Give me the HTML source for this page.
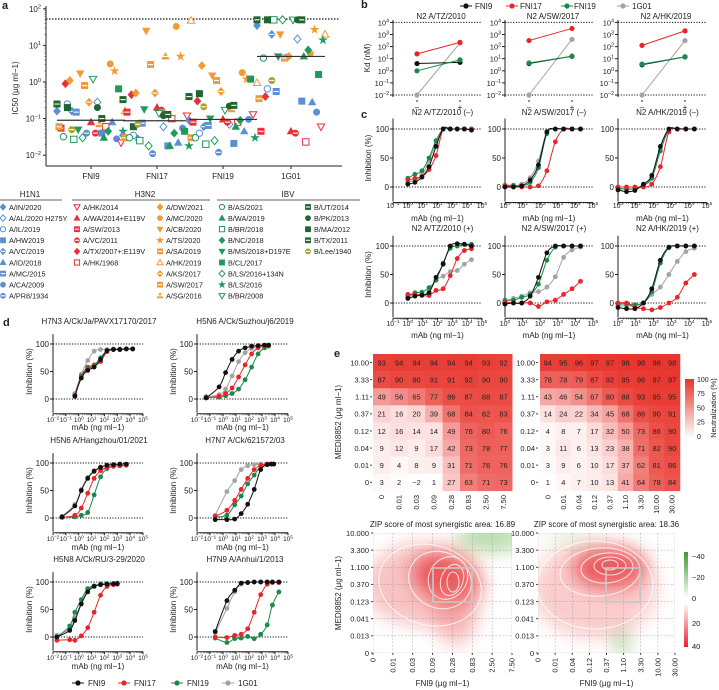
<!DOCTYPE html>
<html><head><meta charset="utf-8">
<style>
html,body{margin:0;padding:0;background:#fff;}
svg{display:block;font-family:"Liberation Sans",sans-serif;}
</style></head>
<body>
<svg id="chart" width="719" height="690" viewBox="0 0 719 690" xmlns="http://www.w3.org/2000/svg">
<defs>
<filter id="blur" x="-50%" y="-50%" width="200%" height="200%"><feGaussianBlur stdDeviation="9"/></filter>
<clipPath id="clipL"><rect x="373" y="533" width="139" height="120"/></clipPath>
<clipPath id="clipR"><rect x="538" y="533" width="137" height="120"/></clipPath>
<linearGradient id="neutGrad" x1="0" y1="0" x2="0" y2="1"><stop offset="0" stop-color="#e8322a"/><stop offset="1" stop-color="#ffffff"/></linearGradient>
<linearGradient id="zipG" x1="0" y1="0" x2="0" y2="1"><stop offset="0" stop-color="#3c9a2e"/><stop offset="1" stop-color="#ffffff"/></linearGradient>
<linearGradient id="zipR" x1="0" y1="0" x2="0" y2="1"><stop offset="0" stop-color="#ffffff"/><stop offset="1" stop-color="#e8222a"/></linearGradient>
</defs>
</svg>
<script>
// ---------------- DATA ----------------
// Panel a
const abNames = ['FNI9','FNI17','FNI19','1G01'];
const strainNames = ['A/IN/2020','A/AL/2020 H275Y','A/IL/2019','A/HW2019','A/VC/2019','A/ID/2018','A/MC/2015','A/CA/2009','A/PR8/1934',
 'A/HK/2014','A/WA/2014+E119V','A/SW/2013','A/VC/2011','A/TX/2007+:E119V','A/HK/1968',
 'A/DW/2021','A/MC/2020','A/CB/2020','A/TS/2020','A/SA/2019','A/HK/2019','A/KS/2017','A/SW/2017','A/SG/2016',
 'B/AS/2021','B/WA/2019','B/BR/2018','B/NC/2018','B/MS/2018+D197E','B/CL/2017','B/LS/2016+134N','B/LS/2016','B/BR/2008',
 'B/UT/2014','B/PK/2013','B/MA/2012','B/TX/2011','B/Lee/1940'];
const strainShapes = ['diamond','diamond','circle','square','diamond','tri','square','circle','circle',
 'tridown','tri','square','circle','diamond','square',
 'diamond','circle','tridown','star','square','tri','diamond','square','tri',
 'circle','tri','square','diamond','tridown','square','diamond','star','tridown',
 'square','circle','square','square','circle'];
const strainStyles = ['f','o','o','f','h','f','h','f','h',
 'o','f','h','h','f','o',
 'f','f','f','f','h','o','h','h','h',
 'o','f','o','f','f','f','o','f','o',
 'h','f','f','h','h'];
const strainColors = ['b','b','b','b','b','b','b','b','b','r','r','r','r','r','r','o','o','o','o','o','o','o','o','o',
 'g','g','g','g','g','g','g','g','g','d','d','d','d','y'];
const ic50FNI9  = [0.16,0.28,0.25,0.04,0.16,0.08,0.15,0.028,0.04, 0.022,0.08,0.055,0.04,0.9,0.06, 1.1,3.1,1.7,2.0,0.8,0.16,0.28,0.06,0.07, 0.032,0.03,0.027,0.045,0.05,0.65,0.03,0.045,1.2, 0.25,0.2,0.2,0.1,0.05];
const ic50FNI17 = [0.035,0.06,0.035,0.018,0.028,0.022,0.075,0.055,0.011, 0.12,0.2,0.15,0.17,0.45,0.1, 0.5,33,25,5,3,48,0.5,0.03,5, 0.03,0.018,0.025,0.04,0.18,0.045,0.018,0.018,0.14, 0.33,0.12,0.06,0.13,0.07];
const ic50FNI19 = [0.09,0.07,0.04,0.021,0.06,0.045,0.065,0.095,0.012, 0.13,0.095,0.08,0.08,0.3,0.08, 2.8,1.8,1.5,1.2,1.1,0.95,0.55,0.03,0.18, 0.03,0.06,0.02,0.09,0.1,1.2,0.025,0.03,0.17, 0.4,0.22,0.48,0.23,0.21];
const ic501G01  = [35,15,0.65,0.3,20,0.28,0.55,0.15,4.8, 0.06,0.045,0.045,0.04,0.4,0.023, 50,6,20,27,4.5,20,5,0.35,50, 4.5,5,50,7.5,5,1.6,50,14,50, 50,50,50,50,1.1];
const ic50Sets = [ic50FNI9, ic50FNI17, ic50FNI19, ic501G01];
const aTickExps = [2,1,0,-1,-2];

// Panel b (log10 Kd, minus/plus)
const bTitles = ['N2 A/TZ/2010','N2 A/SW/2017','N2 A/HK/2019'];
const kdFNI9  = [[0.6,0.7],[0.6,1.2],[0.5,1.15]];
const kdFNI17 = [[1.4,2.35],[2.5,3.5],[2.1,3.3]];
const kdFNI19 = [[0.0,0.9],[0.65,1.2],[0.55,1.15]];
const kd1G01  = [[-2,2.3],[-2,2.6],[-2,2.5]];
const bTickExps = [4,3,2,1,0,-1,-2];

// Panel c
const cTitles = ['N2 A/TZ/2010 (–)','N2 A/SW/2017 (–)','N2 A/HK/2019 (–)','N2 A/TZ/2010 (+)','N2 A/SW/2017 (+)','N2 A/HK/2019 (+)'];
const cConc = [0,0.48,0.95,1.43,1.9,2.38,2.86,3.33,3.81,4.29];
const cFNI9  = [[5,8,17,35,70,100,100,100,100,98],[0,0,2,12,38,95,100,100,100,100],[-5,-8,-6,5,20,70,100,100,100,100],
 [8,12,14,18,45,68,100,104,103,100],[-2,0,0,12,45,88,100,100,100,100],[-8,-10,-10,0,25,75,98,100,100,100]];
const cFNI17 = [[12,15,18,30,54,100,100,100,100,100],[2,0,0,0,2,28,78,100,100,100],[0,0,0,0,5,35,95,100,100,100],
 [15,15,13,13,22,25,48,78,92,95],[2,0,0,0,-6,2,5,15,25,38],[0,0,-8,-10,-12,-8,0,10,35,50]];
const cFNI19 = [[15,22,28,50,80,100,100,100,100,100],[3,3,2,8,33,92,100,100,100,100],[-3,-3,-3,3,15,62,98,100,100,100],
 [12,18,19,27,40,70,96,100,103,103],[5,5,10,15,33,75,98,100,100,100],[-2,-2,-3,0,20,70,97,100,100,100]];
const c1G01  = [[8,12,20,45,75,100,100,100,100,100],[2,2,5,16,45,95,100,100,100,100],[-2,-4,-3,4,18,66,100,100,100,100],
 [10,15,15,20,40,47,55,57,68,76],[3,8,12,18,20,28,46,80,93,98],[-5,-5,-5,0,15,28,50,73,90,96]];

// Panel d
const dTitles = ['H7N3 A/Ck/Ja/PAVX17170/2017','H5N6 A/Ck/Suzhou/j6/2019','H5N6 A/Hangzhou/01/2021','H7N7 A/Ck/621572/03','H5N8 A/Ck/RU/3-29/2020','H7N9 A/Anhui/1/2013'];
const dConc = [[-0.3,0.2,0.7,1.2,1.7,2.2,2.7,3.2,3.7,4.2],[-1.3,-0.3,0.2,0.7,1.2,1.7,2.2,2.7,3.2,3.5],[-1.3,-0.3,0.2,0.7,1.2,1.7,2.2,2.7,3.2,3.7],
 [-0.6,0.3,0.9,1.4,1.9,2.4,2.9,3.4,3.7,3.9],[-1.7,-0.7,-0.3,0.2,0.7,1.2,1.7,2.2,2.7,3.0],[-0.6,0.3,0.9,1.4,1.9,2.4,2.9,3.4,3.8,4.3]];
const dFNI9  = [[5,38,52,58,72,88,90,90,91,91],[2,22,48,72,87,93,96,97,98,98],[2,22,50,72,85,92,96,97,98,98],
 [-3,-3,-2,8,25,52,88,97,98,98],[0,12,30,60,82,92,95,96,97,97],[10,66,85,98,99,100,100,100,100,100]];
const dFNI17 = [[6,40,55,60,68,86,90,90,91,91],[2,5,10,20,40,62,82,93,96,97],[1,5,18,45,72,86,92,94,95,96],
 [3,14,32,52,72,88,96,98,98,98],[-6,-5,-6,2,17,45,76,92,95,96],[0,-1,3,5,15,45,77,96,99,99]];
const dFNI19 = [[7,42,58,62,75,88,90,90,91,91],[4,3,6,10,18,35,58,82,93,96],[2,2,5,10,42,75,90,94,95,96],
 [2,5,24,40,62,78,94,98,98,98],[0,20,45,68,88,93,96,97,97,98],[-2,-10,-3,-2,1,-3,5,22,58,82]];
const d1G01  = [[10,45,70,87,90,90,91,91,91,91],[3,8,18,42,68,84,92,96,97,98],[3,25,52,74,86,93,96,97,98,98],
 [5,48,68,88,95,97,98,98,98,98],[3,15,35,62,85,93,96,97,97,98],[8,52,82,96,99,100,100,100,100,100]];

// Panel e
const eRowLabels = ['10.00','3.33','1.11','0.37','0.12','0.04','0.01','0'];
const eColLabelsL = ['0','0.01','0.03','0.09','0.28','0.83','2.50','7.50'];
const eColLabelsR = ['0','0.01','0.04','0.12','0.37','1.10','3.30','10.00','30.00'];
const heatL = [[93,94,94,94,94,94,93,92],[87,90,90,91,91,92,90,90],[49,56,65,77,86,87,88,87],[21,16,20,39,68,84,82,83],
 [12,16,14,14,49,76,80,76],[9,12,9,17,42,73,78,77],[9,4,8,9,31,71,76,76],[3,2,-2,1,27,63,71,73]];
const heatR = [[94,95,96,97,97,98,98,98,98],[78,78,79,87,92,95,96,97,97],[43,46,54,67,80,88,93,95,95],[14,24,22,34,45,68,86,90,91],
 [4,8,7,17,32,50,73,86,90],[3,11,6,13,23,38,71,82,90],[3,9,6,10,17,37,62,81,86],[1,4,7,10,13,41,64,78,84]];
const zipRowLabels = ['10.000','3.300','1.100','0.370','0.123','0.041','0.013','0'];
const zipScores = ['16.89','18.36'];

// ---------------- HELPERS ----------------
const NS='http://www.w3.org/2000/svg';
const svg=document.getElementById('chart');
const COL={b:'#5b8fd6',r:'#e8303a',o:'#f39a34',g:'#1f9a5c',d:'#1d6630',y:'#a8a22a'};
const SER=['#111111','#e8262a','#1a8a4a','#a3a3a3'];
function mk(tag,attrs,parent){const e=document.createElementNS(NS,tag);for(const k in attrs)e.setAttribute(k,attrs[k]);(parent||svg).appendChild(e);return e;}
function txt(x,y,s,size,anchor,parent,extra){const e=mk('text',Object.assign({x:x,y:y,'font-size':size,'text-anchor':anchor||'start',fill:'#222'},extra||{}),parent);e.textContent=s;return e;}
function sup(x,y,base,exp,size,anchor,parent){const e=mk('text',{x:x,y:y,'font-size':size,'text-anchor':anchor||'middle',fill:'#222'},parent);const t1=mk('tspan',{},e);t1.textContent=base;const t2=mk('tspan',{dy:-size*0.4,'font-size':size*0.7},e);t2.textContent=exp;return e;}
function grp(){return mk('g',{});}
function marker(shape,style,color,x,y,r,parent){
  let e; const fill=style==='o'?'#fff':color;
  if(shape==='circle') e=mk('circle',{cx:x,cy:y,r:r},parent);
  else if(shape==='square') e=mk('rect',{x:x-r,y:y-r,width:2*r,height:2*r},parent);
  else { let p;
    if(shape==='diamond') p=[[x,y-r*1.25],[x+r*1.1,y],[x,y+r*1.25],[x-r*1.1,y]];
    else if(shape==='tri') p=[[x,y-r*1.2],[x+r*1.15,y+r*0.85],[x-r*1.15,y+r*0.85]];
    else if(shape==='tridown') p=[[x,y+r*1.2],[x+r*1.15,y-r*0.85],[x-r*1.15,y-r*0.85]];
    else { p=[]; for(let k=0;k<10;k++){const a=-Math.PI/2+k*Math.PI/5;const rr=k%2?r*0.5:r*1.3;p.push([x+rr*Math.cos(a),y+rr*Math.sin(a)]);} }
    e=mk('polygon',{points:p.map(q=>q[0].toFixed(1)+','+q[1].toFixed(1)).join(' ')},parent);
  }
  e.setAttribute('fill',fill); e.setAttribute('stroke',color); e.setAttribute('stroke-width',style==='o'?1:0.6);
  if(style==='h'){ mk('line',{x1:x-r*0.8,x2:x+r*0.8,y1:y,y2:y,stroke:'#fff','stroke-width':1.1},parent); }
  return e;
}
function smoothPath(pts){
  let d='M'+pts[0][0].toFixed(1)+','+pts[0][1].toFixed(1);
  for(let i=0;i<pts.length-1;i++){
    const p0=pts[Math.max(0,i-1)],p1=pts[i],p2=pts[i+1],p3=pts[Math.min(pts.length-1,i+2)];
    const c1=[p1[0]+(p2[0]-p0[0])/6,p1[1]+(p2[1]-p0[1])/6],c2=[p2[0]-(p3[0]-p1[0])/6,p2[1]-(p3[1]-p1[1])/6];
    d+=' C'+c1[0].toFixed(1)+','+c1[1].toFixed(1)+' '+c2[0].toFixed(1)+','+c2[1].toFixed(1)+' '+p2[0].toFixed(1)+','+p2[1].toFixed(1);
  }
  return d;
}
function median(a){const s=a.slice().sort((p,q)=>p-q);const n=s.length;return n%2?s[(n-1)/2]:(s[n/2-1]+s[n/2])/2;}

// ---------------- PANEL A ----------------
(function(){
  const g=grp();  
  txt(2,9,'a',11,'start',g,{'font-weight':'bold'});
  const yOf=v=>82-36.6*Math.log10(v);
  const xc=[91,157,223,291];
  mk('line',{x1:46,x2:46,y1:6,y2:166,stroke:'#222','stroke-width':1},g);
  mk('line',{x1:46,x2:342,y1:166,y2:166,stroke:'#222','stroke-width':1},g);
  aTickExps.forEach(ex=>{const y=yOf(Math.pow(10,ex));mk('line',{x1:43,x2:46,y1:y,y2:y,stroke:'#222'},g);sup(41,y+3,'10',String(ex).replace('-','−'),8,'end',g);
    for(let m=2;m<10&&ex>-2;m++){const yy=yOf(Math.pow(10,ex-1)*m);mk('line',{x1:44.5,x2:46,y1:yy,y2:yy,stroke:'#222','stroke-width':0.5},g);} });
  const yl=mk('text',{x:0,y:0,'font-size':8,'text-anchor':'middle',fill:'#222',transform:'translate(18,88) rotate(-90)'},g);
  yl.textContent='IC50 (μg ml−1)'; 
  mk('line',{x1:46,x2:340,y1:19,y2:19,stroke:'#111','stroke-width':1.2,'stroke-dasharray':'1.5,1.5'},g);
  abNames.forEach((n,j)=>{mk('line',{x1:xc[j],x2:xc[j],y1:166,y2:169,stroke:'#222'},g);
    const t=txt(xc[j],179,n,8,'middle',g); 
    const vals=ic50Sets[j];
    vals.forEach((v,i)=>{const off=(((i*17)%11)-5)*6.4+((i*7)%3-1)*2;
      const m=marker(strainShapes[i],strainStyles[i],COL[strainColors[i]],xc[j]+off,yOf(v),3.2,g);
      
      });
    const md=yOf(median(vals));
    const ml=mk('line',{x1:xc[j]-34,x2:xc[j]+34,y1:md,y2:md,stroke:'#333','stroke-width':1.2},g);
    
  });
  // legend
  const lg=grp();  
  txt(30,197,'H1N1',8,'middle',lg); txt(145,197,'H3N2',8,'middle',lg); txt(288,197,'IBV',8,'middle',lg);
  mk('line',{x1:0,x2:62,y1:200,y2:200,stroke:'#333','stroke-width':0.8},lg);
  mk('line',{x1:72,x2:210,y1:200,y2:200,stroke:'#333','stroke-width':0.8},lg);
  mk('line',{x1:217,x2:360,y1:200,y2:200,stroke:'#333','stroke-width':0.8},lg);
  const cols=[[0,9,3],[9,15,77],[15,24,160],[24,33,222],[33,38,308]];
  cols.forEach(c=>{for(let i=c[0];i<c[1];i++){const y=207+(i-c[0])*11.1;
    marker(strainShapes[i],strainStyles[i],COL[strainColors[i]],c[2],y,2.6,lg);
    const t=txt(c[2]+6,y+2.8,strainNames[i],7.3,'start',lg); }});
})();

// ---------------- PANEL B ----------------
(function(){
  const g=grp();  
  txt(361,8,'b',11,'start',g,{'font-weight':'bold'});
  const lx=[466,512,567,623], tx=[475,520,574,632];
  abNames.forEach((n,j)=>{mk('line',{x1:lx[j]-6,x2:lx[j]+6,y1:6,y2:6,stroke:SER[j],'stroke-width':1},g);
    mk('circle',{cx:lx[j],cy:6,r:2.6,fill:SER[j]},g);
    const t=txt(tx[j],9,n,8,'start',g); });
  const ax=[393,505,618];
  const yOf=l=>95-(l+2)*12.1;
  const sets=[kdFNI9,kdFNI17,kdFNI19,kd1G01];
  bTitles.forEach((tt,p)=>{const x0=ax[p];
    const t=txt(x0+48,19,tt,8,'middle',g); 
    mk('line',{x1:x0,x2:x0,y1:20,y2:97,stroke:'#222'},g);
    mk('line',{x1:x0+24,x2:x0+24,y1:100,y2:102,stroke:'#222'},g);mk('line',{x1:x0+67,x2:x0+67,y1:100,y2:102,stroke:'#222'},g);
    mk('line',{x1:x0,x2:x0+89,y1:yOf(4),y2:yOf(4),stroke:'#111','stroke-dasharray':'1.2,1.5'},g);
    mk('line',{x1:x0,x2:x0+89,y1:yOf(-2),y2:yOf(-2),stroke:'#111','stroke-dasharray':'1.2,1.5'},g);
    txt(x0+24,110,'–',8,'middle',g); txt(x0+67,110,'+',8,'middle',g);
    bTickExps.forEach(ex=>{const y=yOf(ex);mk('line',{x1:x0-3,x2:x0,y1:y,y2:y,stroke:'#222'},g);sup(x0-4,y+3,'10',String(ex).replace('-','−'),7.5,'end',g);});
    [3,0,2,1].forEach(j=>{const v=sets[j][p];
      const l=mk('line',{x1:x0+24,x2:x0+67,y1:yOf(v[0]),y2:yOf(v[1]),stroke:SER[j],'stroke-width':1},g);
      
      v.forEach((vv,k)=>{const c=mk('circle',{cx:x0+24+43*k,cy:yOf(vv),r:2.6,fill:SER[j]},g);
        });});
  });
  const yl=mk('text',{x:0,y:0,'font-size':8,'text-anchor':'middle',fill:'#222',transform:'translate(370,58) rotate(-90)'},g);
  yl.textContent='Kd (nM)';
})();

// ---------------- CURVE PLOTS (C, D) ----------------
function curvePlot(g,opt){
  const {x0,lmin,lmax,x1,y100,y0,conc,series,title,tcx,tty,showY,ylabX,tickY,labY,pr}=opt;
  const xOf=l=>x0+(l-lmin)/(lmax-lmin)*(x1-x0);
  const yp=v=>y0+(y100-y0)*v/100;
  const t=txt(tcx,tty,title,8,'middle',g); 
  const top=yp(118),bot=yp(-25);
  mk('line',{x1:x0,x2:x0,y1:top,y2:bot,stroke:'#222'},g);
  mk('line',{x1:x0,x2:x1,y1:bot+1,y2:bot+1,stroke:'#222'},g);
  [0,100].forEach(v=>mk('line',{x1:x0,x2:x1,y1:yp(v),y2:yp(v),stroke:'#111','stroke-dasharray':'1.2,1.5'},g));
  [0,50,100].forEach(v=>{mk('line',{x1:x0-3,x2:x0,y1:yp(v),y2:yp(v),stroke:'#222'},g);txt(x0-4,yp(v)+3,String(v),8,'end',g);});
  for(let l=lmin;l<=lmax;l++){const x=xOf(l);mk('line',{x1:x,x2:x,y1:bot+1,y2:bot+3.5,stroke:'#222'},g);
    sup(x,tickY,'10',String(l).replace('-','−'),pr?6.5:7,'middle',g);
    if(l<lmax) for(let m=2;m<10;m++){const xx=xOf(l+Math.log10(m));mk('line',{x1:xx,x2:xx,y1:bot+1,y2:bot+2.5,stroke:'#222','stroke-width':0.4},g);}}
  txt((x0+x1)/2,labY,'mAb (ng ml−1)',8,'middle',g);
  if(showY){const yl=mk('text',{x:0,y:0,'font-size':8,'text-anchor':'middle',fill:'#222',transform:'translate('+ylabX+','+yp(50)+') rotate(-90)'},g);yl.textContent='Inhibition (%)';}
  [3,2,1,0].forEach(j=>{const vals=series[j];
    const pts=conc.map((c,i)=>[xOf(c),yp(vals[i])]);
    const path=mk('path',{d:smoothPath(pts),fill:'none',stroke:SER[j],'stroke-width':1},g);
    
    pts.forEach(p=>{const c=mk('circle',{cx:p[0],cy:p[1],r:2.4,fill:SER[j]},g);
      });
  });
}
(function(){
  const g=grp();  
  txt(361,118,'c',11,'start',g,{'font-weight':'bold'});
  const ax=[393,505,618], ends=[482,593,707];
  for(let p=0;p<6;p++){const r=Math.floor(p/3),c=p%3;
    curvePlot(g,{x0:ax[c],x1:ends[c],lmin:c===0?-1:0,lmax:5,y100:r?246:129,y0:r?303:187,conc:cConc,
      series:[cFNI9[p],cFNI17[p],cFNI19[p],c1G01[p]],title:cTitles[p],tcx:(ax[c]+ends[c])/2+5,tty:r?231:115,
      showY:c===0,ylabX:371,tickY:r?326:208,labY:r?338:221});}
})();
(function(){
  const g=grp();  
  txt(3,326,'d',11,'start',g,{'font-weight':'bold'});
  const ax=[53,197], ends=[143,288], tcx=[99,245];
  const y100s=[344,463,582], y0s=[399,518,637], tts=[324,443,562], tks=[422,541,660], lbs=[430,550,669];
  for(let p=0;p<6;p++){const r=Math.floor(p/2),c=p%2;
    curvePlot(g,{x0:ax[c],x1:ends[c],lmin:-2,lmax:5,y100:y100s[r],y0:y0s[r],conc:dConc[p],
      series:[dFNI9[p],dFNI17[p],dFNI19[p],d1G01[p]],title:dTitles[p],tcx:tcx[c],tty:tts[r],
      showY:true,ylabX:c?176:32,tickY:tks[r],labY:lbs[r],pr:true});}
  const lx=[78,124,177,228];
  abNames.forEach((n,j)=>{mk('line',{x1:lx[j]-6,x2:lx[j]+6,y1:683,y2:683,stroke:SER[j]},g);
    mk('circle',{cx:lx[j],cy:683,r:2.6,fill:SER[j]},g);
    const t=txt(lx[j]+10,686,n,8,'start',g); });
})();

// ---------------- PANEL E ----------------
(function(){
  const g=grp();  
  txt(334,357,'e',11,'start',g,{'font-weight':'bold'});
  function color(v){const t=Math.max(0,Math.min(1,v/100));const r=Math.round(255+(232-255)*t),gg=Math.round(255+(50-255)*t),b=Math.round(255+(42-255)*t);return 'rgb('+r+','+gg+','+b+')';}
  function heat(data,cols,x0,w,labX){
    const ch=17.1,y0=354;
    data.forEach((row,i)=>{row.forEach((v,j)=>{
      const cell=mk('rect',{x:x0+j*w,y:y0+i*ch,width:w+0.3,height:ch+0.3,fill:color(v)},g);
      
      txt(x0+j*w+w/2,y0+i*ch+ch/2+2.8,String(v).replace('-','−'),7.5,'middle',g);});
      txt(labX,y0+i*ch+ch/2+2.8,eRowLabels[i],7.5,'end',g);
      mk('line',{x1:labX+1,x2:labX+3,y1:y0+i*ch+ch/2,y2:y0+i*ch+ch/2,stroke:'#444'},g);});
    cols.forEach((c,j)=>{const x=x0+j*w+w/2;
      txt(0,0,c,7.5,'end',g,{transform:'translate('+(x+2.5)+',495) rotate(-90)'});});
  }
  heat(heatL,eColLabelsL,373,17.4,369);
  heat(heatR,eColLabelsR,540,15.55,535);
  const yl=mk('text',{x:0,y:0,'font-size':8,'text-anchor':'middle',fill:'#222',transform:'translate(341,422) rotate(-90)'},g);yl.textContent='MEDI8852 (μg ml−1)';
  mk('rect',{x:685,y:379,width:9,height:59,fill:'url(#neutGrad)'},g);
  [100,75,50,25,0].forEach((v,i)=>txt(697,382+i*14.2,String(v),7,'start',g));
  const nl=mk('text',{x:0,y:0,'font-size':7.5,'text-anchor':'middle',fill:'#222',transform:'translate(716,408) rotate(-90)'},g);nl.textContent='Neutralization (%)';

  function zip(x0,x1,cols,clip,blobs,contC,box,score){
    const y0=533,y1=653;
    txt((x0+x1)/2,527,'ZIP score of most synergistic area: '+score,8,'middle',g);
    const cg=mk('g',{'clip-path':'url(#'+clip+')'},g);
    const bg=mk('g',{filter:'url(#blur)'},cg);
    blobs.forEach(b=>mk('ellipse',{cx:b[0],cy:b[1],rx:b[2],ry:b[3],fill:b[4],opacity:b[5],transform:'rotate('+(b[6]||0)+' '+b[0]+' '+b[1]+')'},bg));
    const dx=(x1-x0)/(cols.length-1),dy=(y1-y0)/7;
    cols.forEach((c,j)=>{const x=x0+j*dx;mk('line',{x1:x,x2:x,y1:y0,y2:y1,stroke:'#888','stroke-width':0.5,'stroke-dasharray':'2,1.5',opacity:0.7},cg);
      txt(0,0,c,7.5,'end',g,{transform:'translate('+(x+2.5)+',658) rotate(-90)'});
      mk('line',{x1:x,x2:x,y1:y1,y2:y1+2,stroke:'#444'},g);});
    zipRowLabels.forEach((l,i)=>{const y=y0+i*dy;mk('line',{x1:x0,x2:x1,y1:y,y2:y,stroke:'#888','stroke-width':0.5,'stroke-dasharray':'2,1.5',opacity:0.7},cg);
      txt(x0-4,y+2.8,l,7.5,'end',g);mk('line',{x1:x0-2,x2:x0,y1:y,y2:y,stroke:'#444'},g);});
    const ctr=mk('g',{fill:'none',stroke:'#fff','stroke-width':1.1,opacity:0.75},cg);
    contC.forEach(e=>mk('ellipse',{cx:e[0],cy:e[1],rx:e[2],ry:e[3],transform:'rotate('+e[4]+' '+e[0]+' '+e[1]+')'},ctr));
    const bx=mk('rect',{x:box[0],y:box[1],width:box[2],height:box[3],fill:'none',stroke:'#c8c8c8','stroke-width':1.6},g);
    
    txt((x0+x1)/2,686,'FNI9 (μg ml−1)',8,'middle',g);
  }
  zip(373,512,eColLabelsL,'clipL',
    [[425,585,60,42,'#f39a9a',0.6,0],[445,578,35,25,'#e8323a',0.75,20],[455,615,22,30,'#f08080',0.5,0],[490,538,35,14,'#7cbf68',0.55,0],[400,640,25,12,'#ffffff',0.6,0]],
    [[453,582,6,10,0],[452,580,11,16,20],[448,578,19,22,30],[440,580,32,28,25],[430,585,52,40,15]],
    [433,568,39,34],zipScores[0]);
  zip(538,675,eColLabelsR,'clipR',
    [[595,590,62,48,'#f5a3a3',0.55,0],[610,568,38,22,'#e8323a',0.75,0],[622,642,7,14,'#7cbf68',0.7,0],[570,538,30,8,'#a8d8a0',0.3,0]],
    [[610,565,8,5,0],[610,566,16,9,0],[607,568,26,15,-5],[600,572,40,24,-5],[595,585,58,44,0]],
    [606,568,34,34],zipScores[1]);
  const yl2=mk('text',{x:0,y:0,'font-size':8,'text-anchor':'middle',fill:'#222',transform:'translate(341,593) rotate(-90)'},g);yl2.textContent='MEDI8852 (μg ml−1)';
  mk('rect',{x:684,y:552,width:4,height:46,fill:'url(#zipG)'},g);
  mk('rect',{x:684,y:603,width:4,height:44,fill:'url(#zipR)'},g);
  [['−40',556],['−20',577],['0',598],['20',623],['40',646]].forEach(a=>txt(692,a[1]+3,a[0],7.5,'start',g));
})();
</script>
</body></html>
